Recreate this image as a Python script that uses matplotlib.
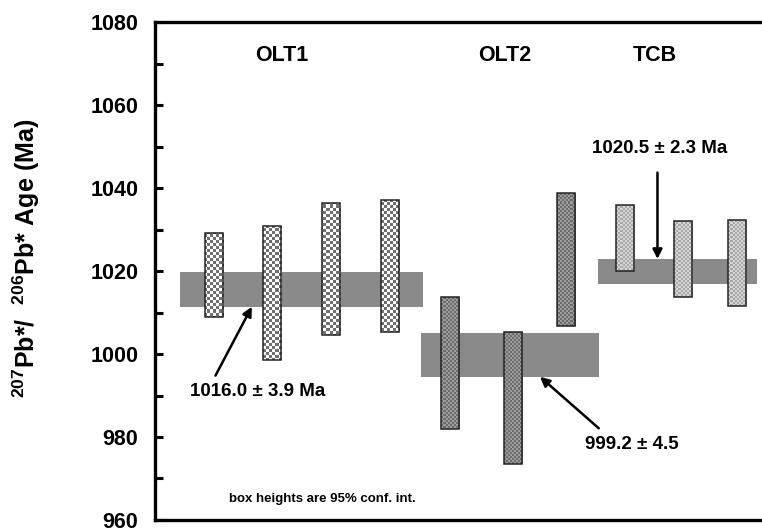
import numpy as np
import matplotlib
matplotlib.use("Agg")
import matplotlib.pyplot as plt
from matplotlib.patches import Rectangle

plt.rcParams['font.family'] = ['Liberation Sans', 'DejaVu Sans']
plt.rcParams['font.weight'] = 'bold'
plt.rcParams['mathtext.fontset'] = 'custom'
plt.rcParams['mathtext.rm'] = 'Liberation Sans:bold'
plt.rcParams['mathtext.bf'] = 'Liberation Sans:bold'
plt.rcParams['mathtext.it'] = 'Liberation Sans:bold'

# ---- data ----
groups = ['OLT1', 'OLT2', 'TCB']
group_label_x = [2.16, 5.96, 8.52]

olt1_pos = [1.0, 2.0, 3.0, 4.0]
olt1_low = [1008.8, 998.5, 1004.6, 1005.3]
olt1_high = [1029.2, 1030.9, 1036.5, 1037.0]

olt2_pos = [5.03, 6.10, 7.00]
olt2_low = [981.9, 973.4, 1006.8]
olt2_high = [1013.8, 1005.4, 1038.9]

tcb_pos = [8.00, 8.99, 9.91]
tcb_low = [1020.1, 1013.8, 1011.6]
tcb_high = [1035.9, 1032.1, 1032.3]

mean_x0 = [0.43, 4.54, 7.55]
mean_x1 = [4.57, 7.56, 10.26]
mean_low = [1011.4, 994.5, 1016.8]
mean_high = [1019.8, 1005.0, 1022.9]

mean_labels = ['1016.0 \u00b1 3.9 Ma', '999.2 \u00b1 4.5', '1020.5 \u00b1 2.3 Ma']

yticks = [960, 980, 1000, 1020, 1040, 1060, 1080]

# ---- figure ----
W, H = 762, 529
fig = plt.figure(figsize=(W / 100, H / 100), dpi=100)
ax = fig.add_axes([155 / W, 1 - 520 / H, (W - 155) / W, (520 - 22) / H])
XMAX = 607 / 58.7
ax.set_xlim(0, XMAX)
ax.set_ylim(960, 1080)


def checker(ncols, nrows, c1, c2):
    yy, xx = np.mgrid[0:nrows, 0:ncols]
    m = (xx + yy) % 2
    a = np.array(matplotlib.colors.to_rgb(c1))
    b = np.array(matplotlib.colors.to_rgb(c2))
    return np.where(m[..., None] == 0, a, b)


tex_coarse = checker(202, 166, '#707070', '#ffffff')
tex_dark = checker(303, 249, '#6c6c6c', '#9c9c9c')
tex_light = checker(303, 249, '#a8a8a8', '#d6d6d6')

# mean boxes
for x0, x1, lo, hi in zip(mean_x0, mean_x1, mean_low, mean_high):
    ax.add_patch(Rectangle((x0, lo), x1 - x0, hi - lo, facecolor='#8a8a8a',
                           edgecolor='none', zorder=1))

bw = 0.31


def draw_bars(pos, low, high, tex):
    for x, lo, hi in zip(pos, low, high):
        r = Rectangle((x - bw / 2, lo), bw, hi - lo, facecolor='none',
                      edgecolor='#222222', lw=1.1, zorder=3)
        ax.add_patch(r)
        im = ax.imshow(tex, extent=(0, XMAX, 960, 1080), origin='lower',
                       aspect='auto', interpolation='nearest', zorder=2)
        im.set_clip_path(r)


draw_bars(olt1_pos, olt1_low, olt1_high, tex_coarse)
draw_bars(olt2_pos, olt2_low, olt2_high, tex_dark)
draw_bars(tcb_pos, tcb_low, tcb_high, tex_light)

ax.set_xlim(0, XMAX)
ax.set_ylim(960, 1080)

# group labels
for g, gx in zip(groups, group_label_x):
    ax.text(gx, 1072, g, ha='center', va='center', fontsize=15.5,
            fontweight='bold', zorder=5)

# annotations
ap = dict(arrowstyle='-|>', lw=1.8, color='black', mutation_scale=14,
          shrinkA=0, shrinkB=0)
ax.annotate('', xy=(1.65, 1011.4), xytext=(1.03, 994.8), arrowprops=ap, zorder=6)
ax.text(1.75, 991.0, mean_labels[0], ha='center', va='center', fontsize=13.5,
        fontweight='bold')
ax.annotate('', xy=(6.56, 994.5), xytext=(7.56, 982.1), arrowprops=ap, zorder=6)
ax.text(8.12, 978.3, mean_labels[1], ha='center', va='center', fontsize=13.5,
        fontweight='bold')
ax.annotate('', xy=(8.56, 1022.9), xytext=(8.56, 1043.7), arrowprops=ap, zorder=6)
ax.text(8.6, 1049.6, mean_labels[2], ha='center', va='center', fontsize=13.5,
        fontweight='bold')

ax.text(2.85, 965.0, 'box heights are 95% conf. int.', ha='center', va='center',
        fontsize=9.5, fontweight='bold')

# axes styling
for s in ['left', 'top', 'bottom']:
    ax.spines[s].set_linewidth(2.4)
ax.spines['right'].set_visible(False)
ax.set_xticks([])
ax.set_yticks(yticks)
ax.set_yticks(np.arange(970, 1080, 20), minor=True)
ax.set_yticklabels([str(t) for t in yticks])
ax.tick_params(axis='y', which='both', direction='in', length=6, width=2.2,
               labelsize=15.5, pad=12)
for lab in ax.get_yticklabels():
    lab.set_fontweight('bold')

fig.text(26 / W, 1 - 258 / H,
         r'$^{207}\mathrm{Pb{*}/}\ \ ^{206}\mathrm{Pb{*}\ Age\ (Ma)}$',
         rotation=90, ha='center', va='center', fontsize=18)

fig.savefig('out.png', dpi=100)
